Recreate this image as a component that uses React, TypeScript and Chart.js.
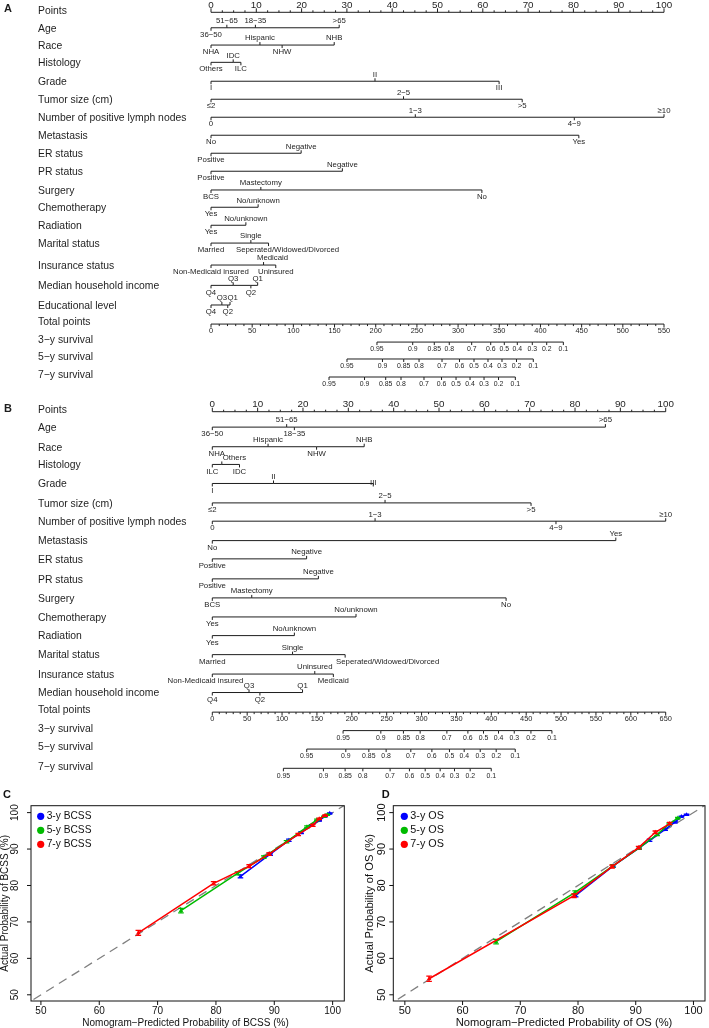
import React, { useEffect, useRef } from "react";
import { Chart, registerables } from "chart.js";

Chart.register(...registerables);

const M = "\u2212";
const FONT = "'Liberation Sans', Arial, Helvetica, sans-serif";
const INK = "#1e1e1e";

// ================= DATA: Panel A nomogram (BCSS) =================
const A_VARIABLES = ["Age", "Race", "Histology", "Grade", "Tumor size (cm)", "Number of positive lymph nodes", "Metastasis", "ER status", "PR status", "Surgery", "Chemotherapy", "Radiation", "Marital status", "Insurance status", "Median household income", "Educational level"];
const A_LEVELS = [
  [`36${M}50`, `51${M}65`, `18${M}35`, ">65"],
  ["NHA", "Hispanic", "NHW", "NHB"],
  ["Others", "IDC", "ILC"],
  ["I", "II", "III"],
  ["≤2", `2${M}5`, ">5"],
  ["0", `1${M}3`, `4${M}9`, "≥10"],
  ["No", "Yes"],
  ["Positive", "Negative"],
  ["Positive", "Negative"],
  ["BCS", "Mastectomy", "No"],
  ["Yes", "No/unknown"],
  ["Yes", "No/unknown"],
  ["Married", "Single", "Seperated/Widowed/Divorced"],
  ["Non-Medicaid insured", "Medicaid", "Uninsured"],
  ["Q4", "Q3", "Q2", "Q1"],
  ["Q4", "Q3", "Q2", "Q1"],
];
const A_POINTS = [
  [0, 3.5, 9.8, 28.3],
  [0, 10.8, 15.7, 27.2],
  [0, 4.9, 6.6],
  [0, 36.2, 63.6],
  [0, 42.5, 68.7],
  [0, 45.1, 80.2, 100],
  [0, 81.2],
  [0, 19.9],
  [0, 29.0],
  [0, 11.0, 59.8],
  [0, 10.4],
  [0, 7.7],
  [0, 8.8, 12.7],
  [0, 11.6, 14.3],
  [0, 4.9, 8.8, 10.3],
  [0, 2.4, 3.7, 4.2],
];
const POINT_TICKS = [0, 10, 20, 30, 40, 50, 60, 70, 80, 90, 100];
const A_TOTAL_TICKS = [0, 50, 100, 150, 200, 250, 300, 350, 400, 450, 500, 550];
const SURV_ROWS = [`3${M}y survival`, `5${M}y survival`, `7${M}y survival`];
const SURV_TICK_LABELS = ["0.95", "0.9", "0.85", "0.8", "0.7", "0.6", "0.5", "0.4", "0.3", "0.2", "0.1"];
const A_SURV3_TOTAL = [201.5, 244.9, 271.1, 289.3, 316.5, 339.6, 356.1, 371.9, 390.1, 407.6, 427.8];
const A_SURV5_TOTAL = [165.1, 208.2, 234.0, 252.6, 280.5, 301.7, 319.3, 336.3, 353.3, 370.9, 391.3];
const A_SURV7_TOTAL = [143.3, 186.4, 212.1, 230.7, 258.6, 279.9, 297.5, 314.5, 331.5, 349.1, 369.5];

// ================= DATA: Panel B nomogram (OS) =================
const B_VARIABLES = ["Age", "Race", "Histology", "Grade", "Tumor size (cm)", "Number of positive lymph nodes", "Metastasis", "ER status", "PR status", "Surgery", "Chemotherapy", "Radiation", "Marital status", "Insurance status", "Median household income"];
const B_LEVELS = [
  [`36${M}50`, `51${M}65`, `18${M}35`, ">65"],
  ["NHA", "Hispanic", "NHW", "NHB"],
  ["ILC", "Others", "IDC"],
  ["I", "II", "III"],
  ["≤2", `2${M}5`, ">5"],
  ["0", `1${M}3`, `4${M}9`, "≥10"],
  ["No", "Yes"],
  ["Positive", "Negative"],
  ["Positive", "Negative"],
  ["BCS", "Mastectomy", "No"],
  ["Yes", "No/unknown"],
  ["Yes", "No/unknown"],
  ["Married", "Single", "Seperated/Widowed/Divorced"],
  ["Non-Medicaid insured", "Uninsured", "Medicaid"],
  ["Q4", "Q3", "Q2", "Q1"],
];
const B_POINTS = [
  [0, 16.4, 18.1, 86.7],
  [0, 12.3, 23.0, 33.5],
  [0, 2.1, 6.0],
  [0, 13.5, 35.5],
  [0, 38.1, 70.3],
  [0, 35.9, 75.8, 100],
  [0, 89.0],
  [0, 20.8],
  [0, 23.4],
  [0, 8.7, 64.8],
  [0, 31.7],
  [0, 18.1],
  [0, 17.7, 29.3],
  [0, 22.6, 26.7],
  [0, 8.1, 10.5, 19.9],
];
const B_TOTAL_TICKS = [0, 50, 100, 150, 200, 250, 300, 350, 400, 450, 500, 550, 600, 650];
const B_SURV3_TOTAL = [187.5, 241.6, 274.0, 298.0, 336.3, 366.4, 388.8, 410.3, 432.9, 456.8, 486.9];
const B_SURV5_TOTAL = [135.4, 191.4, 224.4, 249.2, 284.6, 314.8, 340.0, 361.1, 384.1, 407.0, 434.3];
const B_SURV7_TOTAL = [101.9, 159.3, 190.4, 215.8, 254.9, 282.6, 305.2, 326.7, 347.2, 369.7, 399.9];

// ================= DATA: Panel C calibration (BCSS) =================
const C_3Y_PRED = [84.2, 89.3, 92.5, 94.6, 96.4, 97.7, 98.7, 99.5];
const C_3Y_OBS = [82.5, 88.6, 92.4, 94.5, 96.5, 97.9, 99.0, 99.8];
const C_3Y_ERR = [0.4, 0.3, 0.3, 0.25, 0.2, 0.2, 0.15, 0.15];
const C_5Y_PRED = [74.0, 83.7, 88.2, 92.1, 95.6, 97.3, 98.5, 99.1];
const C_5Y_OBS = [73.1, 83.3, 87.8, 92.0, 96.1, 98.0, 98.9, 99.4];
const C_5Y_ERR = [0.6, 0.4, 0.35, 0.3, 0.25, 0.2, 0.15, 0.15];
const C_7Y_PRED = [66.7, 79.6, 85.7, 89.1, 94.1, 96.6, 97.7, 98.7];
const C_7Y_OBS = [67.0, 80.6, 85.3, 88.6, 94.0, 96.5, 98.3, 99.2];
const C_7Y_ERR = [0.7, 0.45, 0.4, 0.35, 0.3, 0.25, 0.2, 0.2];

// ================= DATA: Panel D calibration (OS) =================
const D_3Y_PRED = [79.6, 86.1, 90.6, 92.4, 95.1, 96.8, 97.9, 98.8];
const D_3Y_OBS = [77.3, 85.4, 90.3, 92.4, 95.4, 97.4, 98.9, 99.4];
const D_3Y_ERR = [0.45, 0.35, 0.3, 0.3, 0.25, 0.2, 0.15, 0.15];
const D_5Y_PRED = [65.8, 79.5, 86.0, 90.6, 93.7, 95.8, 97.3];
const D_5Y_OBS = [64.6, 78.1, 85.3, 90.3, 94.0, 96.9, 98.5];
const D_5Y_ERR = [0.6, 0.45, 0.35, 0.3, 0.3, 0.25, 0.2];
const D_7Y_PRED = [54.2, 79.3, 85.9, 90.5, 93.4, 95.9];
const D_7Y_OBS = [54.4, 77.2, 85.2, 90.4, 94.6, 97.0];
const D_7Y_ERR = [0.7, 0.5, 0.4, 0.35, 0.35, 0.3];
const CAL_TICKS = [50, 60, 70, 80, 90, 100];

// ================= LAYOUT (not data) =================
const A_SIDES = [
  ["d", "u", "u", "u"], ["d", "u", "d", "u"], ["d", "u", "d"], ["d", "u", "d"], ["d", "u", "d"],
  ["d", "u", "d", "u"], ["d", "d"], ["d", "u"], ["d", "u"], ["d", "u", "d"], ["d", "u"], ["d", "u"],
  ["d", "u", "d"], ["d", "u", "d"], ["d", "u", "d", "u"], ["d", "u", "d", "u"],
];
const B_SIDES = [
  ["d", "u", "d", "u"], ["d", "u", "d", "u"], ["d", "u", "d"], ["d", "u", "d"], ["d", "u", "d"],
  ["d", "u", "d", "u"], ["d", "u"], ["d", "u"], ["d", "u"], ["d", "u", "d"], ["d", "u"], ["d", "u"],
  ["d", "u", "d"], ["d", "u", "d"], ["d", "u", "d", "u"],
];
const A_ROW_POS = [0, 0.86, 1.82, 2.78, 3.83, 4.83, 5.83, 6.83, 7.83, 8.83, 9.87, 10.83, 11.83, 12.82, 14.04, 15.17, 16.26, 17.32, 18.32, 19.26, 20.26];
const B_ROW_POS = [0, 0.81, 1.84, 2.77, 3.77, 4.79, 5.75, 6.77, 7.73, 8.78, 9.78, 10.78, 11.76, 12.76, 13.78, 14.75, 15.78, 16.75, 17.72, 18.73];
const A_NUDGE: Record<string, { dx?: number; dy?: number }> = {
  "Marital status|Seperated/Widowed/Divorced": { dx: 19 },
  "Insurance status|Medicaid": { dx: 9 },
  "Educational level|Q1": { dx: 2.7 },
};
const B_NUDGE: Record<string, { dx?: number; dy?: number }> = {
  "Marital status|Seperated/Widowed/Divorced": { dx: 42.5 },
  "Histology|Others": { dx: 12.6 },
  "Grade|III": { dy: -8 },
  "Insurance status|Non-Medicaid insured": { dx: -6.8 },
  "Race|NHA": { dx: 4.5 },
};

type NomoSpec = {
  letter: string;
  variables: string[];
  levels: string[][];
  points: number[][];
  sides: string[][];
  nudges: Record<string, { dx?: number; dy?: number }>;
  totalTicks: number[];
  survTotals: number[][];
  rowPos: number[];
  pad: { left: number; right: number; top: number; bottom: number };
};

function lineDs(xsArr: number[], y: number, axis: string) {
  return {
    data: xsArr.map((x) => ({ x, y })),
    xAxisID: axis,
    yAxisID: "y",
    showLine: true,
    pointRadius: 0,
    borderColor: INK,
    borderWidth: 1,
    clip: false as any,
    fill: false,
  };
}

function buildNomogram(spec: NomoSpec) {
  const nv = spec.variables.length;
  const totalMax = spec.totalTicks[spec.totalTicks.length - 1];
  const datasets: any[] = [];
  datasets.push(lineDs([POINT_TICKS[0], POINT_TICKS[POINT_TICKS.length - 1]], spec.rowPos[0], "x"));
  spec.points.forEach((pts, vi) => {
    const sorted = [...pts].sort((a, b) => a - b);
    datasets.push(lineDs(sorted, spec.rowPos[vi + 1], "x"));
  });
  datasets.push(lineDs([0, totalMax], spec.rowPos[nv + 1], "tp"));
  spec.survTotals.forEach((arr, j) => datasets.push(lineDs(arr, spec.rowPos[nv + 2 + j], "tp")));

  const plugin = {
    id: "nomo" + spec.letter,
    afterDatasetsDraw(chart: any) {
      const ctx = chart.ctx as CanvasRenderingContext2D;
      const xs = chart.scales.x;
      const ts = chart.scales.tp;
      const ys = chart.scales.y;
      const yp = (i: number) => ys.getPixelForValue(spec.rowPos[i]);
      ctx.save();
      ctx.fillStyle = INK;
      ctx.strokeStyle = INK;
      ctx.lineWidth = 1;
      ctx.textBaseline = "middle";

      // panel letter
      ctx.font = `bold 11px ${FONT}`;
      ctx.textAlign = "left";
      ctx.fillText(spec.letter, 4, yp(0) - 3);

      // row names
      ctx.font = `10.4px ${FONT}`;
      const names = ["Points", ...spec.variables, "Total points", ...SURV_ROWS];
      names.forEach((n, i) => {
        const isVar = i >= 1 && i <= nv;
        ctx.fillText(n, 38, yp(i) + (isVar ? 1 : -1.5));
      });

      // points axis (ticks up, labels above)
      const y0 = yp(0);
      ctx.beginPath();
      for (let k = 0; k <= 40; k++) {
        const v = k * 2.5;
        const x = xs.getPixelForValue(v);
        ctx.moveTo(x, y0);
        ctx.lineTo(x, y0 - (k % 4 === 0 ? 4 : 2));
      }
      ctx.stroke();
      ctx.font = `9.8px ${FONT}`;
      ctx.textAlign = "center";
      POINT_TICKS.forEach((v) => ctx.fillText(String(v), xs.getPixelForValue(v), y0 - 7.5));

      // variables
      ctx.font = `7.8px ${FONT}`;
      spec.variables.forEach((name, vi) => {
        const y = yp(vi + 1);
        spec.levels[vi].forEach((lab, li) => {
          const x = xs.getPixelForValue(spec.points[vi][li]);
          const up = spec.sides[vi][li] === "u";
          ctx.beginPath();
          ctx.moveTo(x, y);
          ctx.lineTo(x, y + (up ? -3 : 3));
          ctx.stroke();
          const n = spec.nudges[`${name}|${lab}`] || {};
          ctx.fillText(lab, x + (n.dx || 0), y + (up ? -6.8 : 7) + (n.dy || 0));
        });
      });

      // total points axis (ticks down, labels below)
      const yt = yp(nv + 1);
      ctx.beginPath();
      for (let v = 0; v <= totalMax + 1e-6; v += 10) {
        const x = ts.getPixelForValue(v);
        ctx.moveTo(x, yt);
        ctx.lineTo(x, yt + (v % 50 === 0 ? 3.5 : 2));
      }
      ctx.stroke();
      ctx.font = `7.4px ${FONT}`;
      spec.totalTicks.forEach((v) => ctx.fillText(String(v), ts.getPixelForValue(v), yt + 7));

      // survival axes
      ctx.font = `6.9px ${FONT}`;
      spec.survTotals.forEach((arr, j) => {
        const y = yp(nv + 2 + j);
        arr.forEach((tpv, k) => {
          const x = ts.getPixelForValue(tpv);
          ctx.beginPath();
          ctx.moveTo(x, y);
          ctx.lineTo(x, y + 3);
          ctx.stroke();
          ctx.fillText(SURV_TICK_LABELS[k], x, y + 7.4);
        });
      });
      ctx.restore();
    },
  };

  return {
    type: "scatter" as const,
    data: { datasets },
    options: {
      animation: false as const,
      responsive: false,
      events: [],
      layout: { padding: spec.pad },
      plugins: { legend: { display: false }, tooltip: { enabled: false } },
      scales: {
        x: { type: "linear" as const, min: POINT_TICKS[0], max: POINT_TICKS[POINT_TICKS.length - 1], display: false },
        tp: { type: "linear" as const, axis: "x" as const, min: 0, max: totalMax, display: false },
        y: { type: "linear" as const, min: 0, max: spec.rowPos[spec.rowPos.length - 1], reverse: true, display: false },
      },
    },
    plugins: [plugin],
  };
}

const BLUE = "#0000FF";
const GREEN = "#00BB00";
const RED = "#FF0000";

type Series = { label: string; pred: number[]; obs: number[]; err: number[]; color: string };
type CalSpec = {
  letter: string;
  xTitle: string;
  yTitle: string;
  series: Series[];
  pad: { left: number; right: number; top: number; bottom: number };
  xMin: number; xMax: number; yMin: number; yMax: number;
  yLabelX: number; yTitleX: number; xTitleX: number; letterX: number; legendX: number;
  tickFont: number; titleFont: number; legendFont: number;
};

function buildCalibration(spec: CalSpec) {
  const datasets: any[] = [];
  datasets.push({
    data: [{ x: 40, y: 40 }, { x: 110, y: 110 }],
    showLine: true,
    pointRadius: 0,
    borderColor: "#808080",
    borderWidth: 1.3,
    borderDash: [9, 6],
    order: 10,
  });
  spec.series.forEach((s, i) => {
    datasets.push({
      label: s.label,
      data: s.pred.map((p, k) => ({ x: p, y: s.obs[k] })),
      errs: s.err,
      showLine: true,
      borderColor: s.color,
      backgroundColor: s.color,
      borderWidth: 1.5,
      pointStyle: "triangle",
      pointRadius: 2.6,
      pointBackgroundColor: s.color,
      pointBorderColor: s.color,
      pointBorderWidth: 0,
      order: 5 - i,
    });
  });

  const plugin = {
    id: "cal" + spec.letter,
    afterDatasetDraw(chart: any, args: any) {
      const ds = chart.data.datasets[args.index];
      if (!ds.errs) return;
      const ctx = chart.ctx as CanvasRenderingContext2D;
      const xs = chart.scales.x;
      const ys = chart.scales.y;
      ctx.save();
      ctx.strokeStyle = ds.borderColor;
      ctx.lineWidth = 1.3;
      ds.data.forEach((p: any, k: number) => {
        const x = xs.getPixelForValue(p.x);
        const y1 = ys.getPixelForValue(p.y - ds.errs[k]);
        const y2 = ys.getPixelForValue(p.y + ds.errs[k]);
        ctx.beginPath();
        ctx.moveTo(x, y1); ctx.lineTo(x, y2);
        ctx.moveTo(x - 2.8, y1); ctx.lineTo(x + 2.8, y1);
        ctx.moveTo(x - 2.8, y2); ctx.lineTo(x + 2.8, y2);
        ctx.stroke();
      });
      ctx.restore();
    },
    afterDraw(chart: any) {
      const ctx = chart.ctx as CanvasRenderingContext2D;
      const a = chart.chartArea;
      const xs = chart.scales.x;
      const ys = chart.scales.y;
      ctx.save();
      ctx.strokeStyle = "#111";
      ctx.fillStyle = "#111";
      ctx.lineWidth = 1;
      ctx.strokeRect(a.left, a.top, a.right - a.left, a.bottom - a.top);
      ctx.font = `${spec.tickFont}px ${FONT}`;
      ctx.textAlign = "center";
      ctx.textBaseline = "middle";
      CAL_TICKS.forEach((v) => {
        const x = xs.getPixelForValue(v);
        ctx.beginPath(); ctx.moveTo(x, a.bottom); ctx.lineTo(x, a.bottom + 4); ctx.stroke();
        ctx.fillText(String(v), x, a.bottom + 10);
        const y = ys.getPixelForValue(v);
        ctx.beginPath(); ctx.moveTo(a.left, y); ctx.lineTo(a.left - 4, y); ctx.stroke();
        ctx.save();
        ctx.translate(spec.yLabelX, y);
        ctx.rotate(-Math.PI / 2);
        ctx.fillText(String(v), 0, 0);
        ctx.restore();
      });
      ctx.font = `${spec.titleFont}px ${FONT}`;
      ctx.fillText(spec.xTitle, spec.xTitleX, a.bottom + 22);
      ctx.save();
      ctx.translate(spec.yTitleX, (a.top + a.bottom) / 2);
      ctx.rotate(-Math.PI / 2);
      ctx.fillText(spec.yTitle, 0, 0);
      ctx.restore();
      // legend
      ctx.font = `${spec.legendFont}px ${FONT}`;
      ctx.textAlign = "left";
      spec.series.forEach((s, i) => {
        const y = a.top + 10.6 + i * 14;
        ctx.fillStyle = s.color;
        ctx.beginPath();
        ctx.arc(spec.legendX, y, 3.6, 0, Math.PI * 2);
        ctx.fill();
        ctx.fillStyle = "#111";
        ctx.fillText(s.label, spec.legendX + 6, y);
      });
      // panel letter
      ctx.font = `bold 11px ${FONT}`;
      ctx.fillText(spec.letter, spec.letterX, 12.5);
      ctx.restore();
    },
  };

  return {
    type: "scatter" as const,
    data: { datasets },
    options: {
      animation: false as const,
      responsive: false,
      events: [],
      layout: { padding: spec.pad },
      plugins: { legend: { display: false }, tooltip: { enabled: false } },
      scales: {
        x: { type: "linear" as const, min: spec.xMin, max: spec.xMax, display: false },
        y: { type: "linear" as const, min: spec.yMin, max: spec.yMax, display: false },
      },
    },
    plugins: [plugin],
  };
}

const SPEC_A: NomoSpec = {
  letter: "A",
  variables: A_VARIABLES,
  levels: A_LEVELS,
  points: A_POINTS,
  sides: A_SIDES,
  nudges: A_NUDGE,
  totalTicks: A_TOTAL_TICKS,
  survTotals: [A_SURV3_TOTAL, A_SURV5_TOTAL, A_SURV7_TOTAL],
  rowPos: A_ROW_POS,
  pad: { left: 211, right: 45, top: 12.3, bottom: 13 },
};
const SPEC_B: NomoSpec = {
  letter: "B",
  variables: B_VARIABLES,
  levels: B_LEVELS,
  points: B_POINTS,
  sides: B_SIDES,
  nudges: B_NUDGE,
  totalTicks: B_TOTAL_TICKS,
  survTotals: [B_SURV3_TOTAL, B_SURV5_TOTAL, B_SURV7_TOTAL],
  rowPos: B_ROW_POS,
  pad: { left: 212.3, right: 43.3, top: 21.7, bottom: 13.7 },
};
const SPEC_C: CalSpec = {
  letter: "C",
  xTitle: `Nomogram${M}Predicted Probability of BCSS (%)`,
  yTitle: "Actual Probability of BCSS (%)",
  series: [
    { label: "3-y BCSS", pred: C_3Y_PRED, obs: C_3Y_OBS, err: C_3Y_ERR, color: BLUE },
    { label: "5-y BCSS", pred: C_5Y_PRED, obs: C_5Y_OBS, err: C_5Y_ERR, color: GREEN },
    { label: "7-y BCSS", pred: C_7Y_PRED, obs: C_7Y_OBS, err: C_7Y_ERR, color: RED },
  ],
  pad: { left: 31, right: 5.7, top: 23.7, bottom: 27 },
  xMin: 48.3, xMax: 102, yMin: 48.3, yMax: 101.9,
  yLabelX: 15, yTitleX: 5, xTitleX: 185.5, letterX: 3, legendX: 40.7,
  tickFont: 10, titleFont: 10, legendFont: 10.2,
};
const SPEC_D: CalSpec = {
  letter: "D",
  xTitle: `Nomogram${M}Predicted Probability of OS (%)`,
  yTitle: "Actual Probability of OS (%)",
  series: [
    { label: "3-y OS", pred: D_3Y_PRED, obs: D_3Y_OBS, err: D_3Y_ERR, color: BLUE },
    { label: "5-y OS", pred: D_5Y_PRED, obs: D_5Y_OBS, err: D_5Y_ERR, color: GREEN },
    { label: "7-y OS", pred: D_7Y_PRED, obs: D_7Y_OBS, err: D_7Y_ERR, color: RED },
  ],
  pad: { left: 43.3, right: 0.6, top: 23.7, bottom: 27 },
  xMin: 48.0, xMax: 102, yMin: 48.3, yMax: 101.9,
  yLabelX: 32, yTitleX: 20, xTitleX: 214, letterX: 31.7, legendX: 54.3,
  tickFont: 11, titleFont: 11.2, legendFont: 10.8,
};

function ChartCanvas(props: { left: number; top: number; width: number; height: number; build: () => any }) {
  const ref = useRef<HTMLCanvasElement>(null);
  useEffect(() => {
    const c = ref.current;
    if (!c) return;
    const chart = new Chart(c, props.build());
    return () => chart.destroy();
  }, []);
  return (
    <canvas
      ref={ref}
      width={props.width}
      height={props.height}
      style={{ position: "absolute", left: props.left, top: props.top, width: props.width, height: props.height }}
    />
  );
}

export default function App() {
  return (
    <div style={{ position: "absolute", left: 0, top: 0, width: 709, height: 1028, background: "#fff", overflow: "hidden" }}>
      <ChartCanvas left={0} top={0} width={709} height={390} build={() => buildNomogram(SPEC_A)} />
      <ChartCanvas left={0} top={390} width={709} height={392} build={() => buildNomogram(SPEC_B)} />
      <ChartCanvas left={0} top={782} width={350} height={246} build={() => buildCalibration(SPEC_C)} />
      <ChartCanvas left={350} top={782} width={359} height={246} build={() => buildCalibration(SPEC_D)} />
    </div>
  );
}
